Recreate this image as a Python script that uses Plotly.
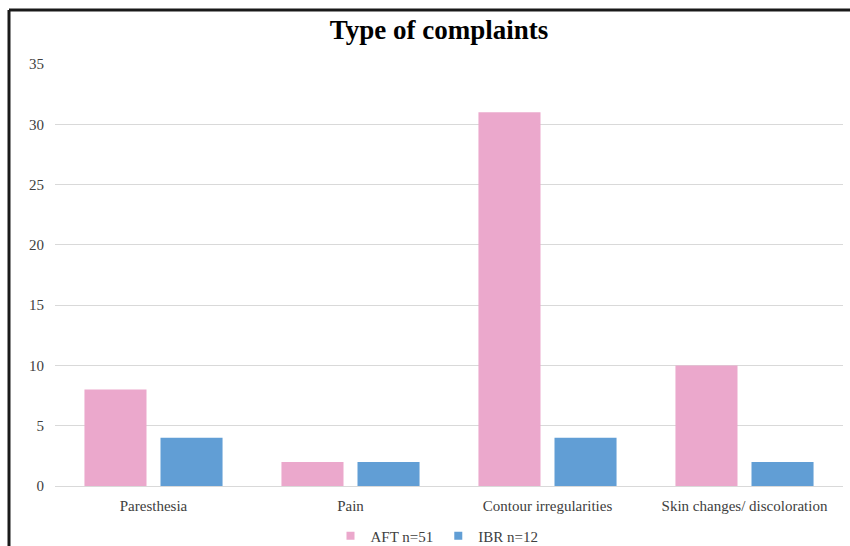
import plotly.graph_objects as go

categories = ["Paresthesia", "Pain", "Contour irregularities", "Skin changes/ discoloration"]
aft_values = [8, 2, 31, 10]
ibr_values = [4, 2, 4, 2]
series_names = ["AFT n=51", "IBR n=12"]
colors = ["#EBA8CC", "#619ED5"]
y_ticks = [0, 5, 10, 15, 20, 25, 30, 35]

W, H = 850, 546
L, R, T, B = 55, 7, 64, 60

fig = go.Figure()
for vals, name, col in zip([aft_values, ibr_values], series_names, colors):
    fig.add_trace(go.Bar(x=categories, y=vals, name=name, showlegend=False,
                         legendgroup=name,
                         marker=dict(color=col, line=dict(width=0))))
# legend entries with small square swatches, as in the reference
for name, col in zip(series_names, colors):
    fig.add_trace(go.Scatter(x=[categories[0]], y=[None], mode="markers", name=name,
                             legendgroup=name,
                             marker=dict(symbol="square", size=8, color=col)))

pw = W - L - R
ph = H - T - B
fig.update_layout(
    width=W, height=H,
    margin=dict(l=L, r=R, t=T, b=B, pad=0, autoexpand=False),
    paper_bgcolor="white", plot_bgcolor="white",
    barmode="group", bargap=0.228, bargroupgap=0.184,
    font=dict(family="Liberation Serif", color="#404040", size=14),
    title=dict(text="<b>Type of complaints</b>", x=439 / W, xanchor="center",
               y=1 - 30 / H, yanchor="middle",
               font=dict(family="Liberation Serif", size=27, color="#000000")),
    legend=dict(orientation="h", xref="container", x=437 / W, xanchor="center",
                yref="container", y=(H - 536) / H, yanchor="middle",
                font=dict(family="Liberation Serif", size=15, color="#404040"),
                itemwidth=30, tracegroupgap=0),
    showlegend=True,
)
fig.update_yaxes(range=[0, 35], tickvals=y_ticks, showgrid=True, gridcolor="#D9D9D9",
                 gridwidth=1, zeroline=True, zerolinecolor="#D9D9D9", zerolinewidth=1,
                 showline=False, ticks="", ticklabelstandoff=10,
                 tickfont=dict(family="Liberation Serif", size=15, color="#404040"))
fig.update_xaxes(showline=False, ticks="", ticklabelstandoff=9,
                 tickfont=dict(family="Liberation Serif", size=15, color="#404040"))

# outer frame (left and top edges visible in reference)
fig.add_shape(type="line", xref="paper", yref="paper",
              x0=-(L - 9) / pw, x1=(W - L) / pw, y0=1 + (T - 10) / ph, y1=1 + (T - 10) / ph,
              line=dict(color="#1a1a1a", width=3))
fig.add_shape(type="line", xref="paper", yref="paper",
              x0=-(L - 9) / pw, x1=-(L - 9) / pw, y0=1 + (T - 10) / ph, y1=-B / ph,
              line=dict(color="#1a1a1a", width=3))

fig.write_html("out.html")
